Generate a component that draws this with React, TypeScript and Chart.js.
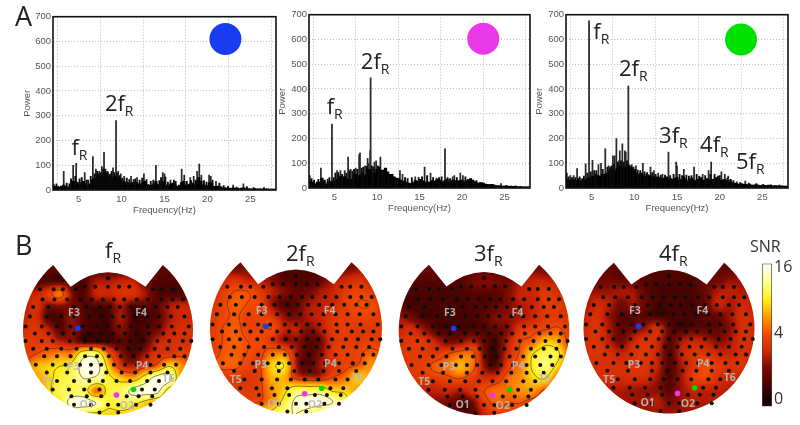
import React, { useEffect, useRef } from "react";
import { Chart, registerables } from "chart.js";
Chart.register(...registerables);

const SANS = "'Liberation Sans', Arial, sans-serif";
const LABEL = "'Open Sans', 'Noto Sans', sans-serif";

const freqTicks = [5, 10, 15, 20, 25];

// Spectral background, one value every 0.25 Hz from 2 Hz
const floorBlue = [22,15,15,12,16,20,15,12,25,35,35,32,30,30,35,25,18,25,40,45,45,55,45,60,70,65,55,50,50,55,50,45,40,35,30,30,25,30,30,30,25,25,30,35,22,20,20,25,35,22,25,35,35,20,18,25,28,20,15,20,30,35,20,22,25,28,20,35,50,35,22,20,18,30,28,15,14,16,14,10,10,8,8,7,9,7,8,6,8,9,6,6,5,5,6,5,5,5,4,5,5,4,4,4,4];
const floorMagenta = [32,26,22,18,24,25,38,26,16,22,25,28,28,35,42,48,45,46,38,30,35,42,55,45,50,60,50,55,75,72,60,62,75,85,70,72,80,65,55,55,45,40,38,32,25,28,22,20,18,22,30,28,35,30,28,22,25,22,30,28,32,35,30,25,30,35,28,30,32,30,28,30,32,25,30,28,38,32,25,22,18,22,20,16,15,14,15,12,10,10,9,8,8,9,7,8,7,6,6,6,6,5,5,5,5];
const floorGreen = [38,32,30,34,32,30,38,30,28,32,38,42,48,45,55,50,48,55,55,60,65,75,68,70,80,90,85,75,85,95,85,80,75,60,55,60,50,45,55,50,48,45,40,45,42,38,40,45,35,38,35,40,42,32,35,45,38,30,35,40,32,30,35,42,32,30,38,32,30,35,42,38,32,30,35,30,32,25,22,20,18,15,18,16,15,14,16,12,12,14,12,10,12,11,10,12,10,9,10,9,8,9,8,8,7];

// Individual peaks: frequency, power
const peaksBlue = [[3.25,75],[4.35,100],[4.7,108],[5.7,70],[6.65,135],[7,85],[7.4,75],[7.7,95],[7.95,152],[8.3,75],[8.7,65],[9,90],[9.35,280],[9.6,75],[9.9,65],[10.3,55],[11.1,55],[11.8,50],[12.6,65],[14,100],[14.8,70],[15,65],[15.7,40],[17,85],[17.3,60],[18,50],[18.4,55],[18.8,75],[19.05,105],[19.3,60],[20.2,60],[20.4,55],[21,35],[23,20],[24.2,25]];
const peaksMagenta = [[2.1,50],[3.4,80],[4.7,258],[5.3,70],[5.7,70],[6.2,70],[6.6,125],[6.9,75],[7.5,80],[7.9,135],[8,142],[8.6,90],[8.9,120],[9,100],[9.2,150],[9.25,445],[9.7,105],[9.9,110],[10.4,125],[11,65],[12.7,70],[13,55],[14.5,45],[15.6,85],[16.3,60],[17,40],[18,158],[18.9,45],[19.1,50],[19.8,60],[20.1,50],[21,30],[22.5,20],[24.6,18]];
const peaksGreen = [[2.1,60],[2.5,50],[2.9,50],[3.3,78],[4.3,98],[4.7,675],[5.1,112],[5.8,95],[6.1,100],[6.6,158],[7,90],[7.5,130],[7.7,130],[7.9,200],[8.2,110],[8.3,150],[8.6,178],[8.9,150],[9,145],[9.3,412],[9.7,95],[10.2,90],[11,100],[11.9,85],[12.3,70],[12.8,60],[13.3,55],[14,145],[14.9,105],[15,90],[15.8,75],[17,85],[18,55],[18.7,70],[19,105],[20.2,65],[20.6,55],[21,48],[22,25],[23,28]];

// Smaller ripple on top of the background: frequency, power
const rippleBlue = [[2.4,25],[3.6,28],[4.1,45],[4.6,55],[5.1,45],[5.35,50],[5.9,40],[6.1,40],[6.4,55],[6.85,65],[7.15,75],[7.3,65],[7.55,70],[7.85,85],[8.1,85],[8.4,72],[8.6,62],[8.85,75],[9.15,70],[9.45,68],[9.75,58],[10.1,48],[10.6,48],[10.9,42],[11.4,42],[11.6,45],[12.1,40],[12.4,48],[12.9,42],[13.4,35],[13.7,40],[14.4,38],[14.6,50],[15.1,52],[15.4,32],[16.1,40],[16.3,35],[17.6,35],[18.1,38],[18.6,40],[19.6,38],[19.9,32],[20.6,40],[21.4,28],[21.9,18],[22.4,15],[23.4,12],[24.6,14],[25.4,10],[26.6,10]];
const rippleMagenta = [[2.3,38],[2.6,32],[3.1,35],[3.6,40],[3.85,32],[4.2,35],[4.4,42],[4.9,42],[5.1,60],[5.45,62],[5.9,55],[6.4,60],[6.75,70],[7.1,68],[7.3,75],[7.7,75],[8.2,80],[8.4,85],[8.8,88],[9.4,90],[9.6,85],[10.1,90],[10.2,80],[10.6,72],[10.9,58],[11.3,48],[11.6,42],[12.1,35],[12.4,38],[13.3,42],[13.6,38],[14.1,42],[14.9,42],[15.3,45],[15.9,50],[16.6,42],[17.3,42],[17.6,45],[18.3,42],[18.6,38],[19.4,42],[20.4,45],[20.7,35],[21.4,28],[21.7,30],[22.1,22],[23.1,15],[23.7,14],[25.2,10],[26.3,9]];
const rippleGreen = [[2.3,45],[2.7,42],[3.1,42],[3.6,45],[3.9,38],[4.1,48],[4.5,60],[4.9,65],[5.3,70],[5.55,70],[6.3,75],[6.85,85],[7.2,85],[7.35,90],[7.6,95],[8.05,105],[8.45,110],[8.75,105],[9.15,110],[9.5,90],[9.9,85],[10.4,72],[10.7,70],[11.2,65],[11.5,62],[12.1,62],[12.5,55],[13.1,52],[13.6,52],[14.2,50],[14.6,55],[15.3,55],[15.6,50],[16.1,52],[16.4,48],[16.7,50],[17.3,55],[17.6,48],[18.3,50],[18.9,55],[19.4,55],[19.8,48],[20,50],[20.9,40],[21.3,35],[21.6,30],[22.4,22],[23.4,20],[24.3,18],[25.1,15],[26,13],[27,12]];

// Harmonic labels: prefix, frequency, power
const harmonicsBlue = [["",4.15,141],["2",8.05,320]];
const harmonicsMagenta = [["",4.08,300],["2",8.1,480]];
const harmonicsGreen = [["",5.2,600],["2",8.2,453],["3",12.9,180],["4",17.7,146],["5",21.9,77]];

// SNR on a 15 x 15 grid, top row first, spanning the head from -1 to 1
const snrF = [
  [.3,.3,.3,.3,.3,.3,.3,.3,.3,.3,.3,.3,.3,.3,.3],
  [.3,.3,.3,.3,.3,.3,.3,.3,.3,.3,.3,.3,.3,.3,.3],
  [.4,.4,.4,.4,.3,.3,.3,.3,.3,.3,.3,.4,.4,.4,.4],
  [.3,.3,.4,.4,.3,.3,1.5,1.6,2,2,.6,.3,.3,.3,.3],
  [2,2,3,5,1,.3,2,2,2.5,2.5,1.5,.3,.3,.3,.3],
  [1.5,2.5,1,1,.8,.3,.3,.4,1.5,.3,.4,.4,1.5,2,2],
  [2,2.5,.4,.3,1.2,.3,.2,.2,1.5,.2,.2,.4,1.5,2.2,2],
  [2.5,2.8,2,.5,1.2,.3,.2,.2,1,.2,.3,.8,2,2.5,2.5],
  [3,3,3,2,1.5,.6,.5,.3,.4,.2,.3,2,2.5,2.5,2.5],
  [3,4,5,6,6,12,12,5,1.5,.4,1.5,2.8,3,3.5,3],
  [4,7,8,9,10,16,16,8,3,2,3.5,5,9,6,4],
  [5,6,8,10,11,14,13,10,8,7,11,16,16,5,4],
  [5,6,8,11,11,11,5,10,11,15,16,16,7,5,4],
  [6,7,8,9,16,16,14,10,11,10,8,5,5,4,4],
  [7,8,8,9,9,8,8,8,8,8,7,5,5,4,4],
];
const snr2F = [
  [.4,.4,.4,.4,.3,.3,.3,.3,.3,.3,.3,.4,.4,.4,.4],
  [.5,.5,.5,.5,.4,.3,.3,.3,.3,.3,.4,.5,.5,.5,.5],
  [.8,.8,.5,1,.8,.6,.3,.3,.3,.5,.8,.6,1,1,1],
  [2,2,2.5,1.8,1.6,1,.3,.3,.3,.5,1.5,2,2.5,2,2],
  [2,3,4,4,3,1.8,1,.5,.7,1.5,2,3,3.5,3,2],
  [2.5,3.5,4.5,4,3.5,1.3,.3,.5,1.5,1.8,2.2,3.2,4,4,2.8],
  [3,3.5,4.2,3.5,3.5,2.8,1.2,.8,1.6,2,2.8,3.2,3.5,3.5,3],
  [3,4,4.5,3.5,3.5,4,2,1.8,1,1.8,3,3.2,3,3,3],
  [3,4,4.5,4,3.8,2.8,1.3,1.2,.4,.8,2.8,3,3,3.2,3],
  [3,4.2,4.5,4,3.5,5,5,1.5,.3,1.2,3,3.5,3.5,4.5,4],
  [4,4.5,4.5,3.5,3.5,8,9,1.5,.4,1.5,2.8,3.5,4,6,5],
  [3,3,3,2.8,3.5,7,7,3,2,2.2,4,5,8,6,5],
  [3,3,3,3,3.5,6,8,11,11,11,8,8,6,5,5],
  [3,3,3,3.5,4,6,10,15,16,16,14,10,6,5,5],
  [4,4,5,6,8,10,13,14,12,8,8,7,6,5,5],
];
const snr3F = [
  [.3,.3,.3,.3,.3,.3,.3,.3,.3,.3,.3,.4,.5,.5,.5],
  [.4,.4,.4,.4,.3,.3,.3,.3,.3,.3,.5,.8,.8,.8,.8],
  [.5,.5,.5,.5,.4,.3,.3,.3,.3,.5,.8,1,.8,.8,.8],
  [.3,.3,.3,.3,.3,.3,.7,1,.8,.8,1.5,2,2,1.8,1.8],
  [.3,.2,.2,.2,.2,.2,.3,.3,.4,1,2,2,3,2.5,2],
  [.3,.2,.2,.2,.2,.2,.3,.3,.5,1,1.6,2,3,3,2.5],
  [1.5,.8,.25,.2,.2,.2,.2,.4,1.1,1.2,1.6,2.2,3,3,2.8],
  [2,2.5,1.5,.4,.2,.2,.3,.3,.5,1.2,3,3.5,4,4.5,3.2],
  [2.5,3,3,2,1,1.3,2,.6,.2,2,4,5,8,7,3.5],
  [3,3,3,3,4,5,5,.8,.2,2.5,4.5,9,11,10,4],
  [3,3,3.3,4.5,5,7,5,1.2,.6,3.5,5.5,9.5,12,8,4],
  [2.8,2.8,2.8,3,3.5,4,3,2.5,3,5,6,8,9,4,3],
  [1.8,1.8,1.8,1.8,2,1.5,2.5,4,5,5,6,6,3.5,3,3],
  [1,1,1,1,.8,.3,.6,3,4.5,4,4,3,3,3,3],
  [1,1,1,1,1,.3,.5,2,3,3,3,3,3,3,3],
];
const snr4F = [
  [.3,.3,.3,.3,.3,.3,.3,.3,.3,.3,.3,.3,.3,.3,.3],
  [.3,.3,.3,.3,.3,.3,.3,.3,.3,.3,.3,.3,.3,.3,.3],
  [.4,.4,.4,.4,.4,.3,.3,.3,.3,.3,.3,.4,.4,.4,.4],
  [.6,.6,.7,.5,.6,.3,.25,.25,.25,.25,.5,.7,1.2,1.2,1.2],
  [1.3,1.3,1.3,1.5,1.4,.5,.2,.2,.2,.25,.7,1.6,1.8,1.6,1.6],
  [1.2,2.2,1.8,.8,1.3,.6,.2,.2,.2,.2,.6,2,1.5,2.2,1.6],
  [1.9,2.5,1.4,.4,.4,.4,.2,.2,.2,.2,.4,.7,1.4,2.4,2.1],
  [2.2,2.7,1.6,.5,.7,1.4,2.4,.5,.2,.4,.4,.5,1.2,2.4,2.2],
  [2.4,2.7,1.8,.7,2,2.7,2.2,.4,1.5,2,1.6,1,1.6,2.5,2.2],
  [2.4,2.7,2.4,1.9,2.5,2.8,2,.25,2,2.7,2.7,2,2,2.5,2],
  [2.4,2.4,2.5,2.5,2.7,2.7,1.9,.25,1.5,2.7,3.8,3,2.7,2.7,2],
  [2.4,2.4,2.4,2.4,2.5,2.4,1.4,.25,1.5,3.2,3.6,2.5,2.2,2,2],
  [1.6,1.6,1.6,1.6,1.4,1.3,1.1,.4,1.3,2,1.9,1.9,1.7,1.6,1.6],
  [1.4,1.4,1.4,1.4,1.4,1.4,1.7,.9,1.4,1.6,1.6,1.6,1.6,1.6,1.6],
  [1.3,1.3,1.3,1.3,1.3,1.3,1.3,1.3,1.3,1.3,1.3,1.3,1.3,1.3,1.3],
];

// Electrodes in head coordinates
const electrodes = [
  [0,.61],[-.27,.51],[-.15,.51],[0,.51],[.13,.51],[.25,.51],
  [-.8,.48],[-.64,.48],[-.53,.48],[-.38,.48],[.53,.48],[.63,.48],[.76,.48],
  [-.77,.36],[-.63,.36],[-.48,.36],[-.32,.36],[-.19,.36],[-.06,.36],[.07,.36],[.19,.36],[.34,.36],[.47,.36],[.63,.36],[.76,.36],[.88,.36],
  [-.88,.27],[-.7,.27],[-.4,.27],[-.25,.27],[-.1,.27],[.02,.27],[.14,.27],[.27,.27],[.42,.27],[.56,.27],[.7,.27],[.82,.27],
  [-.92,.16],[-.72,.16],[-.55,.16],[-.4,.16],[-.22,.16],[-.08,.16],[.05,.16],[.18,.16],[.32,.16],[.46,.16],[.6,.16],[.74,.16],[.9,.16],
  [-.97,.04],[-.78,.04],[-.6,.04],[-.44,.04],[-.3,.04],[-.13,.04],[0,.04],[.13,.04],[.27,.04],[.47,.04],[.6,.04],[.75,.04],[.95,.04],
  [-.86,-.04],[-.7,-.04],[-.53,-.04],[-.4,-.04],[-.22,-.04],[-.08,-.04],[.06,-.04],[.2,-.04],[.33,-.04],[.48,-.04],[.65,-.04],[.78,-.04],[.9,-.04],
  [-.97,-.13],[-.78,-.13],[-.65,-.13],[-.45,-.13],[-.27,-.13],[-.12,-.13],[0,-.13],[.13,-.13],[.26,-.13],[.42,-.13],[.58,-.13],[.72,-.13],[.88,-.13],[.98,-.13],
  [-.88,-.22],[-.72,-.22],[-.55,-.22],[-.37,-.22],[-.2,-.22],[-.05,-.22],[.1,-.22],[.24,-.22],[.38,-.22],[.55,-.22],[.7,-.22],[.85,-.22],
  [-.75,-.31],[-.6,-.31],[-.44,-.31],[-.27,-.31],[-.13,-.31],[.01,-.31],[.15,-.31],[.3,-.31],[.46,-.31],[.6,-.31],[.78,-.31],[.9,-.31],
  [-.85,-.41],[-.65,-.41],[-.5,-.41],[-.33,-.41],[-.2,-.41],[-.08,-.41],[.07,-.41],[.2,-.41],[.34,-.41],[.5,-.41],[.66,-.41],[.8,-.41],
  [-.72,-.5],[-.48,-.5],[-.2,-.5],[-.02,-.5],[.16,-.5],[.32,-.5],[.5,-.5],[.7,-.5],
  [-.6,-.6],[-.4,-.6],[-.22,-.6],[-.06,-.6],[.1,-.6],[.26,-.6],[.46,-.6],[.6,-.6],
  [-.65,-.7],[-.46,-.7],[-.28,-.7],[-.1,-.7],[.4,-.7],[.55,-.7],
  [-.43,-.78],[-.25,-.78],[-.08,-.78],[.22,-.78],[.36,-.78],[.52,-.78],
  [-.4,-.88],[-.2,-.88],[0,-.88],[.12,-.88],[.33,-.88],[.5,-.88],
  [-.1,-.97],[.12,-.97],
];
const sites = [["F3",-.4,.2],["F4",.39,.2],["P3",-.41,-.43],["P4",.4,-.42],["T5",-.7,-.61],["T6",.71,-.58],["O1",-.25,-.88],["O2",.22,-.89]];
const markerBlue = [[-.355,.02]];
const markerMagenta = [[.1,-.765]];
const markerGreen = [[.3,-.7]];

const colorbarTicks = [0, 4, 16];
const contourLevels = [1, 4, 9, 14];

const stops: number[][] = [[0,25,0,0],[.25,130,8,0],[.35,200,35,3],[.5,245,75,0],[.62,255,150,0],[.75,255,235,20],[.88,255,255,130],[1,255,255,235]];
function hot(t: number): number[] {
  const u = Math.max(0, Math.min(1, t));
  for (let i = 1; i < stops.length; i++) {
    if (u <= stops[i][0]) {
      const a = stops[i - 1], b = stops[i], k = (u - a[0]) / (b[0] - a[0]);
      return [1, 2, 3].map((c) => a[c] + (b[c] - a[c]) * k);
    }
  }
  return stops[stops.length - 1].slice(1);
}
const colorOf = (snr: number) => hot(Math.sqrt(Math.max(snr, 0)) / 4);

function cubic(a: number, b: number, c: number, d: number, t: number) {
  return b + 0.5 * t * (c - a + t * (2 * a - 5 * b + 4 * c - d + t * (3 * (b - c) + d - a)));
}
function sample(grid: number[][], x: number, y: number) {
  const n = grid.length - 1;
  const gx = Math.max(0, Math.min(n, ((x + 1) * n) / 2));
  const gy = Math.max(0, Math.min(n, ((1 - y) * n) / 2));
  const ix = Math.min(n - 1, Math.floor(gx)), iy = Math.min(n - 1, Math.floor(gy));
  const at = (r: number, c: number) => grid[Math.max(0, Math.min(n, r))][Math.max(0, Math.min(n, c))];
  const row = (r: number) => cubic(at(r, ix - 1), at(r, ix), at(r, ix + 1), at(r, ix + 2), gx - ix);
  return Math.max(0.1, cubic(row(iy - 1), row(iy), row(iy + 1), row(iy + 2), gy - iy));
}

function headPath(ctx: CanvasRenderingContext2D, c: any) {
  const px = (v: number) => c.scales.x.getPixelForValue(v);
  const py = (v: number) => c.scales.y.getPixelForValue(v);
  const r = px(1) - px(0);
  ctx.beginPath();
  ctx.moveTo(px(-.645), py(.764));
  ctx.lineTo(px(-.44), py(.51));
  ctx.quadraticCurveTo(px(0), py(.85), px(.44), py(.51));
  ctx.lineTo(px(.645), py(.764));
  ctx.arc(px(0), py(0), r, Math.atan2(-.764, .645), Math.PI - Math.atan2(-.764, .645));
  ctx.closePath();
}

const topoPlugin = {
  id: "topo",
  beforeDatasetsDraw(c: any) {
    const grid = c.options.plugins.topo.grid as number[][];
    const { left, top, width, height } = c.chartArea;
    const W = Math.round(width), H = Math.round(height);
    const field = new Float32Array((W + 1) * (H + 1));
    const img = new ImageData(W, H);
    for (let j = 0; j <= H; j++) {
      const yv = c.scales.y.getValueForPixel(top + j);
      for (let i = 0; i <= W; i++) {
        const xv = c.scales.x.getValueForPixel(left + i);
        const v = sample(grid, xv, yv);
        field[j * (W + 1) + i] = v;
        if (i < W && j < H) {
          const rgb = colorOf(v), o = (j * W + i) * 4;
          img.data[o] = rgb[0]; img.data[o + 1] = rgb[1]; img.data[o + 2] = rgb[2]; img.data[o + 3] = 255;
        }
      }
    }
    const off = document.createElement("canvas");
    off.width = W; off.height = H;
    off.getContext("2d")!.putImageData(img, 0, 0);
    const ctx = c.ctx as CanvasRenderingContext2D;
    ctx.save();
    headPath(ctx, c);
    ctx.clip();
    ctx.drawImage(off, left, top);
    ctx.strokeStyle = "rgba(70,50,10,.75)";
    ctx.lineWidth = 0.8;
    ctx.beginPath();
    for (const lv of contourLevels) {
      for (let j = 0; j < H; j++) for (let i = 0; i < W; i++) {
        const a = field[j * (W + 1) + i], b = field[j * (W + 1) + i + 1];
        const d = field[(j + 1) * (W + 1) + i], e = field[(j + 1) * (W + 1) + i + 1];
        const pts: number[][] = [];
        if ((a < lv) !== (b < lv)) pts.push([i + (lv - a) / (b - a), j]);
        if ((d < lv) !== (e < lv)) pts.push([i + (lv - d) / (e - d), j + 1]);
        if ((a < lv) !== (d < lv)) pts.push([i, j + (lv - a) / (d - a)]);
        if ((b < lv) !== (e < lv)) pts.push([i + 1, j + (lv - b) / (e - b)]);
        if (pts.length >= 2) {
          ctx.moveTo(left + pts[0][0], top + pts[0][1]);
          ctx.lineTo(left + pts[1][0], top + pts[1][1]);
        }
      }
    }
    ctx.stroke();
    ctx.restore();
  },
  afterDatasetsDraw(c: any) {
    const ctx = c.ctx as CanvasRenderingContext2D;
    ctx.save();
    ctx.font = `bold 10.5px ${LABEL}`;
    ctx.fillStyle = "rgba(185,185,185,.92)";
    ctx.textAlign = "center";
    ctx.textBaseline = "middle";
    for (const [t, x, y] of sites as any[]) ctx.fillText(t, c.scales.x.getPixelForValue(x), c.scales.y.getPixelForValue(y));
    ctx.restore();
  },
};

const specPlugin = {
  id: "spec",
  afterDatasetsDraw(c: any) {
    const ctx = c.ctx as CanvasRenderingContext2D;
    const { left, top, right, bottom } = c.chartArea;
    ctx.save();
    ctx.strokeStyle = "#111";
    ctx.lineWidth = 1.6;
    ctx.strokeRect(left, top, right - left, bottom - top);
    ctx.fillStyle = "#222";
    ctx.textBaseline = "alphabetic";
    for (const [pre, f, p] of c.options.plugins.spec.labels as any[]) {
      const x = c.scales.x.getPixelForValue(f), y = c.scales.y.getPixelForValue(p);
      ctx.font = `22px ${LABEL}`;
      const s = pre + "f";
      ctx.fillText(s, x, y);
      const w = ctx.measureText(s).width;
      ctx.font = `14px ${LABEL}`;
      ctx.fillText("R", x + w, y + 5);
    }
    ctx.restore();
  },
};

function SpectrumChart({ left, top, floor, peaks, ripple, harmonics, dot, dotAt, w, h, titlePad }: any) {
  const ref = useRef<HTMLCanvasElement>(null);
  useEffect(() => {
    const chart = new Chart(ref.current!, {
      type: "bar",
      plugins: [specPlugin],
      data: {
        datasets: [
          { type: "scatter", data: [{ x: dotAt[0], y: dotAt[1] }], pointRadius: 16, pointHoverRadius: 16, backgroundColor: dot, borderWidth: 0, order: 4 },
          { type: "bar", data: floor.map((y: number, i: number) => ({ x: 2 + i * 0.25, y })), backgroundColor: "#000", barThickness: 2.6, grouped: false, order: 2 },
          { type: "bar", data: ripple.map((p: number[]) => ({ x: p[0], y: p[1] })), backgroundColor: "#0a0a0a", barThickness: 1.2, grouped: false, order: 1 },
          { type: "bar", data: peaks.map((p: number[]) => ({ x: p[0], y: p[1] })), backgroundColor: "#2a2a2a", barThickness: 1.1, grouped: false, order: 3 },
        ] as any,
      },
      options: {
        animation: false,
        responsive: false,
        layout: { autoPadding: false, padding: { top: 6, right: 6, left: 0, bottom: 0 } },
        plugins: { legend: { display: false }, tooltip: { enabled: false }, spec: { labels: harmonics } } as any,
        scales: {
          x: {
            type: "linear", min: 2, max: 28, offset: false,
            afterBuildTicks: (a: any) => { a.ticks = freqTicks.map((value) => ({ value })); },
            grid: { color: "#bdbdbd", drawTicks: false },
            border: { display: false, dash: [1, 2] },
            ticks: { color: "#555", font: { family: SANS, size: 9.5 }, padding: 4, maxRotation: 0, autoSkip: false },
            title: { display: true, text: "Frequency(Hz)", color: "#555", font: { family: SANS, size: 9.5 }, padding: { top: 0, bottom: 0 } },
            afterFit: (s: any) => { s.height = 26; },
          },
          y: {
            min: 0, max: 700,
            grid: { color: "#bdbdbd", drawTicks: false },
            border: { display: false, dash: [1, 2] },
            ticks: { stepSize: 100, color: "#555", font: { family: SANS, size: 9.5 }, padding: 2 },
            title: { display: true, text: "Power", color: "#555", font: { family: SANS, size: 9.5 }, padding: { top: titlePad, bottom: 0 } },
            afterFit: (s: any) => { s.width = 36; },
          },
        },
      } as any,
    });
    return () => chart.destroy();
  }, []);
  return <canvas ref={ref} width={w} height={h} style={{ position: "absolute", left, top, width: w, height: h }} />;
}

function TopoChart({ cx, cy, grid, r }: any) {
  const ref = useRef<HTMLCanvasElement>(null);
  const half = 92;
  useEffect(() => {
    const mk = (d: number[][]) => d.map((p) => ({ x: p[0], y: p[1] }));
    const range = half / r;
    const chart = new Chart(ref.current!, {
      type: "scatter",
      plugins: [topoPlugin],
      data: {
        datasets: [
          { data: mk(electrodes), backgroundColor: "#0c0c0c", pointRadius: 2, borderWidth: 0 },
          { data: mk(markerBlue), backgroundColor: "#1a3cf0", pointRadius: 2.8, borderWidth: 0 },
          { data: mk(markerMagenta), backgroundColor: "#e838e8", pointRadius: 2.8, borderWidth: 0 },
          { data: mk(markerGreen), backgroundColor: "#00d800", pointRadius: 2.8, borderWidth: 0 },
        ],
      },
      options: {
        animation: false,
        responsive: false,
        layout: { autoPadding: false, padding: 0 },
        plugins: { legend: { display: false }, tooltip: { enabled: false }, topo: { grid } } as any,
        scales: {
          x: { display: false, min: -range, max: range },
          y: { display: false, min: -range, max: range },
        },
      } as any,
    });
    return () => chart.destroy();
  }, []);
  return <canvas ref={ref} width={half * 2} height={half * 2} style={{ position: "absolute", left: cx - half, top: cy - half, width: half * 2, height: half * 2 }} />;
}

function ColorBar() {
  const ref = useRef<HTMLCanvasElement>(null);
  useEffect(() => {
    const chart = new Chart(ref.current!, {
      type: "bar",
      data: {
        labels: ["SNR"],
        datasets: [{
          data: [[-0.2, 4.12]] as any,
          barPercentage: 1, categoryPercentage: 1,
          borderColor: "#444", borderWidth: 1, borderSkipped: false,
          backgroundColor: (ctx: any) => {
            const c = ctx.chart;
            if (!c.chartArea) return "#000";
            const y0 = c.scales.y.getPixelForValue(0), y4 = c.scales.y.getPixelForValue(4);
            const g = c.ctx.createLinearGradient(0, y0, 0, y4);
            stops.forEach((s) => g.addColorStop(s[0], `rgb(${s[1]},${s[2]},${s[3]})`));
            return g;
          },
        }],
      },
      options: {
        animation: false,
        responsive: false,
        layout: { autoPadding: false, padding: { top: 2, bottom: 2 } },
        plugins: { legend: { display: false }, tooltip: { enabled: false } },
        scales: {
          x: { display: false },
          y: {
            position: "right", min: -0.2, max: 4.12,
            afterBuildTicks: (a: any) => { a.ticks = colorbarTicks.map((v) => ({ value: Math.sqrt(v) })); },
            ticks: { color: "#333", font: { family: LABEL, size: 16 }, padding: 2, callback: (v: any) => String(Math.round(v * v)) },
            grid: { display: false, drawTicks: false },
            border: { display: false },
            afterFit: (s: any) => { s.width = 26; },
          },
        },
      } as any,
    });
    return () => chart.destroy();
  }, []);
  return <canvas ref={ref} width={36} height={166} style={{ position: "absolute", left: 762, top: 252, width: 36, height: 166 }} />;
}

function Head({ x, y, pre }: any) {
  return (
    <div style={{ position: "absolute", left: x, top: y, font: `22px ${LABEL}`, color: "#222", lineHeight: "30px", whiteSpace: "nowrap" }}>
      {pre}f<span style={{ fontSize: 14, position: "relative", top: 5 }}>R</span>
    </div>
  );
}

export default function App() {
  return (
    <div style={{ position: "absolute", left: 0, top: 0, width: 800, height: 425, background: "#fff", overflow: "hidden", filter: "blur(0.45px)" }}>
      <SpectrumChart left={17} top={9} w={265} h={207} floor={floorBlue} peaks={peaksBlue} ripple={rippleBlue} harmonics={harmonicsBlue} dot="#1a3cf0" dotAt={[22.1, 610]} titlePad={5} />
      <SpectrumChart left={273} top={7} w={263} h={207} floor={floorMagenta} peaks={peaksMagenta} ripple={rippleMagenta} harmonics={harmonicsMagenta} dot="#e838e8" dotAt={[22.5, 603]} titlePad={4} />
      <SpectrumChart left={530} top={7} w={264} h={207} floor={floorGreen} peaks={peaksGreen} ripple={rippleGreen} harmonics={harmonicsGreen} dot="#00e000" dotAt={[22.5, 600]} titlePad={4} />
      <TopoChart cx={108} cy={330} r={85} grid={snrF} />
      <TopoChart cx={296} cy={328} r={86} grid={snr2F} />
      <TopoChart cx={484} cy={330} r={85.3} grid={snr3F} />
      <TopoChart cx={669} cy={328} r={85.5} grid={snr4F} />
      <ColorBar />
      <div style={{ position: "absolute", left: 15, top: -3, font: `27px ${LABEL}`, color: "#222" }}>A</div>
      <div style={{ position: "absolute", left: 15, top: 226, font: `27px ${LABEL}`, color: "#222" }}>B</div>
      <div style={{ position: "absolute", left: 750, top: 235, font: `16px ${LABEL}`, color: "#333" }}>SNR</div>
      <Head x={105} y={234} pre="" />
      <Head x={286} y={237} pre="2" />
      <Head x={474} y={237} pre="3" />
      <Head x={659} y={237} pre="4" />
    </div>
  );
}
